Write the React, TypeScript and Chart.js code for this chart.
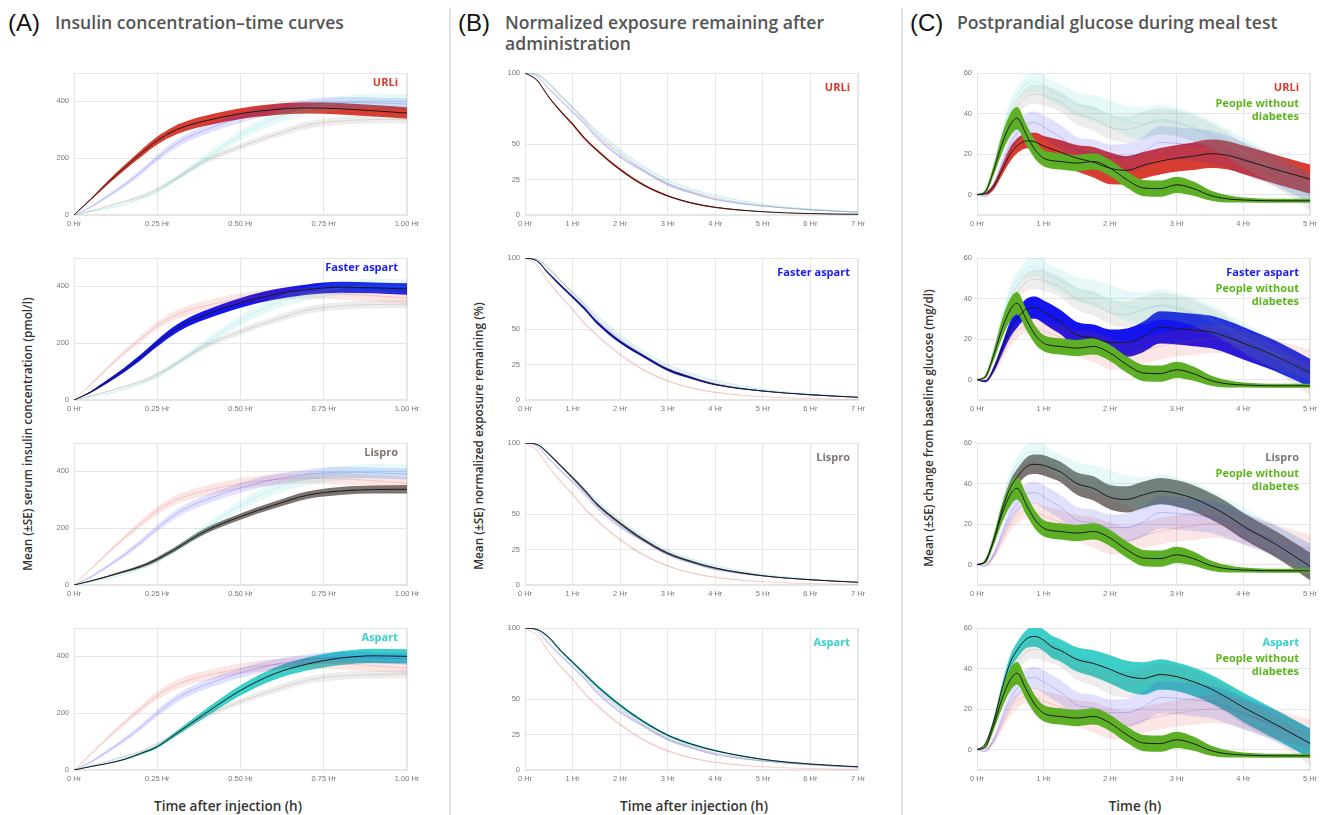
import React, { useEffect, useRef } from "react";
import { Chart, registerables } from "chart.js";

Chart.register(...registerables);

// ---------------- (A) Insulin concentration (pmol/l) ----------------
const insulinHours = [0, 0.05, 0.1, 0.15, 0.2, 0.25, 0.3, 0.35, 0.4, 0.5, 0.6, 0.7, 0.8, 0.9, 1.0];
const insulinURLi = [0, 55, 112, 165, 215, 262, 296, 318, 333, 357, 371, 377, 374, 367, 359];
const insulinURLiSE = [0, 3, 6, 9, 12, 14, 16, 17, 18, 19, 20, 20, 20, 20, 20];
const insulinFaster = [0, 28, 65, 105, 150, 200, 245, 278, 302, 342, 371, 389, 397, 395, 391];
const insulinFasterSE = [0, 3, 6, 8, 10, 12, 14, 15, 16, 17, 18, 18, 19, 19, 20];
const insulinLispro = [0, 14, 30, 47, 65, 91, 123, 160, 193, 241, 281, 316, 331, 336, 337];
const insulinLisproSE = [0, 2, 3, 4, 5, 7, 8, 9, 10, 11, 12, 13, 14, 14, 15];
const insulinAspart = [0, 12, 23, 37, 58, 82, 122, 163, 204, 280, 338, 373, 394, 402, 400];
const insulinAspartSE = [0, 1, 2, 3, 4, 5, 8, 11, 14, 18, 21, 23, 24, 25, 25];
const insulinXTicks = [0, 0.25, 0.5, 0.75, 1];
const insulinXLabels = ["0 Hr", "0.25 Hr", "0.50 Hr", "0.75 Hr", "1.00 Hr"];
const insulinYTicks = [0, 200, 400];

// ---------------- (B) Normalized exposure remaining (%) ----------------
const exposureHours = [0, 0.25, 0.5, 0.75, 1, 1.25, 1.5, 2, 2.5, 3, 3.5, 4, 5, 6, 7];
const exposureURLi = [100, 95, 83, 73, 64, 54, 46, 32, 21, 13.5, 8.5, 5.4, 2.3, 1, 0.5];
const exposureURLiSE = [0, 0.3, 0.6, 0.8, 0.9, 0.9, 0.9, 0.9, 0.8, 0.6, 0.5, 0.4, 0.2, 0.1, 0.1];
const exposureFaster = [100, 98, 89, 80.7, 72.6, 64.4, 55, 41, 30.7, 21.4, 15.6, 10.9, 6.3, 3.7, 1.9];
const exposureFasterSE = [0, 0.3, 0.7, 0.9, 1, 1.1, 1.1, 1.1, 1, 0.9, 0.8, 0.6, 0.4, 0.3, 0.2];
const exposureLispro = [100, 99, 92.3, 84, 75.5, 66.7, 57.3, 43.4, 31.7, 22.4, 16.5, 11.9, 6.5, 3.7, 1.9];
const exposureLisproSE = [0, 0.3, 0.7, 0.9, 1, 1.1, 1.1, 1.1, 1, 0.9, 0.8, 0.6, 0.4, 0.3, 0.2];
const exposureAspart = [100, 99, 93.5, 84, 76, 67.8, 59.6, 45.6, 33.9, 24.5, 18.2, 13.6, 7.5, 4.2, 2.3];
const exposureAspartSE = [0, 0.3, 0.7, 0.9, 1, 1.1, 1.1, 1.1, 1, 0.9, 0.8, 0.6, 0.4, 0.3, 0.2];
const exposureXTicks = [0, 1, 2, 3, 4, 5, 6, 7];
const exposureXLabels = ["0 Hr", "1 Hr", "2 Hr", "3 Hr", "4 Hr", "5 Hr", "6 Hr", "7 Hr"];
const exposureYTicks = [0, 25, 50, 100];

// ---------------- (C) Glucose change from baseline (mg/dl) ----------------
const glucoseHours = [0, 0.125, 0.25, 0.375, 0.5, 0.6, 0.75, 0.875, 1, 1.125, 1.25, 1.5, 1.75, 2, 2.25, 2.5, 2.75, 3, 3.25, 3.5, 3.75, 4, 4.5, 5];
const glucoseURLi = [0, 0.5, 4, 12, 20, 24, 26.6, 26, 24, 22.5, 21, 18, 16, 13, 12, 14.5, 16.5, 18, 19, 20.2, 19.5, 17.2, 12.3, 7.7];
const glucoseURLiSE = [0, 0.5, 1.5, 2.5, 3.5, 3.7, 3.7, 4.5, 5, 5.5, 6, 6.5, 7.5, 7.8, 7, 6.5, 6.5, 6.5, 6.8, 7, 7, 7, 7.2, 7.2];
const glucoseFaster = [0, -0.8, 5, 15, 25, 30, 35, 35.5, 33.4, 31, 28.5, 22, 20.7, 18.3, 18.3, 21.2, 25.8, 25.3, 24.5, 23.6, 21.2, 18, 11.4, 3.3];
const glucoseFasterSE = [0, 0.5, 1.5, 2.5, 4, 4.5, 5, 5.5, 5.7, 6, 6, 6.5, 6.5, 6.5, 7, 7.5, 8, 8, 8, 8, 8, 8, 7.5, 7];
const glucoseLispro = [0, 2, 12, 27, 38, 43, 48.5, 49.5, 49, 47.5, 45.8, 40, 37.6, 33.2, 32.2, 34.5, 36.3, 35.1, 32.7, 29, 24.5, 19, 9.8, -0.8];
const glucoseLisproSE = [0, 0.5, 1.5, 2.5, 3.5, 4, 4.5, 4.8, 5, 5, 5, 5.5, 6, 6, 6.5, 6.5, 6.5, 6.5, 6.5, 6.5, 6.5, 6.5, 6.5, 6.8];
const glucoseAspart = [0, 3, 14, 30, 43, 49, 54.8, 55.8, 54, 50.7, 49, 44.5, 42.5, 39.6, 36.3, 35.1, 37.1, 36, 33.5, 30.2, 25.8, 20.9, 12.2, 3.1];
const glucoseAspartSE = [0, 0.5, 1.5, 2.5, 3.5, 4, 4.5, 5, 5.3, 5.5, 5.5, 6, 6.5, 7, 7.5, 8, 7.5, 7, 7, 7, 7, 7.2, 7.3, 7.4];
const glucoseNoDiabetes = [0, 1.5, 12, 25, 34.5, 37.7, 29, 22, 18, 16.8, 16.4, 15.6, 16.4, 13.1, 7.4, 3.3, 3, 4.9, 3, -0.3, -2, -2.6, -3, -3];
const glucoseNoDiabetesSE = [0, 0.8, 2.5, 4.5, 5.5, 5.5, 5, 4.5, 4, 4, 4, 4, 4, 4, 4, 4, 4, 4, 3.5, 2.5, 1.8, 1.2, 1, 1];
const glucoseXTicks = [0, 1, 2, 3, 4, 5];
const glucoseXLabels = ["0 Hr", "1 Hr", "2 Hr", "3 Hr", "4 Hr", "5 Hr"];
const glucoseYTicks = [0, 20, 40, 60];

// ---------------- series meta ----------------
const seriesNames = ["URLi", "Faster aspart", "Lispro", "Aspart"];
const bandColors = ["#d83d31", "#1414ee", "#7c7470", "#3ccfca"];
const labelColors = ["#e3352b", "#1a1aff", "#7f7671", "#33d3cd"];
const noDiabetesLines = ["People without", "diabetes"];
const greenBand = "#5daf25";
const greenLabel = "#5db41f";

const GRID = "#e6e6e6";
const TICK = "#777777";
const PLOT_W = 333;
const PLOT_H = 142;
const ROW_TOPS = [73, 258, 443, 628];
const GL = 50, GR = 30, GT = 10, GB = 20;

type Spec = {
  xs: number[];
  means: number[][];
  ses: number[][];
  green?: [number[], number[]];
  xMax: number;
  xTicks: number[];
  xLabels: string[];
  yMin: number;
  yMax: number;
  yTicks: number[];
};

const specA: Spec = {
  xs: insulinHours,
  means: [insulinURLi, insulinFaster, insulinLispro, insulinAspart],
  ses: [insulinURLiSE, insulinFasterSE, insulinLisproSE, insulinAspartSE],
  xMax: 1, xTicks: insulinXTicks, xLabels: insulinXLabels,
  yMin: 0, yMax: 500, yTicks: insulinYTicks,
};
const specB: Spec = {
  xs: exposureHours,
  means: [exposureURLi, exposureFaster, exposureLispro, exposureAspart],
  ses: [exposureURLiSE, exposureFasterSE, exposureLisproSE, exposureAspartSE],
  xMax: 7, xTicks: exposureXTicks, xLabels: exposureXLabels,
  yMin: 0, yMax: 100, yTicks: exposureYTicks,
};
const specC: Spec = {
  xs: glucoseHours,
  means: [glucoseURLi, glucoseFaster, glucoseLispro, glucoseAspart],
  ses: [glucoseURLiSE, glucoseFasterSE, glucoseLisproSE, glucoseAspartSE],
  green: [glucoseNoDiabetes, glucoseNoDiabetesSE],
  xMax: 5, xTicks: glucoseXTicks, xLabels: glucoseXLabels,
  yMin: -10, yMax: 60, yTicks: glucoseYTicks,
};

function rgba(hex: string, a: number) {
  const n = parseInt(hex.slice(1), 16);
  return `rgba(${(n >> 16) & 255},${(n >> 8) & 255},${n & 255},${a})`;
}

const framePlugin = {
  id: "frame",
  beforeDatasetsDraw(chart: any) {
    const { ctx, chartArea: a } = chart;
    ctx.save();
    ctx.strokeStyle = GRID;
    ctx.lineWidth = 1;
    ctx.strokeRect(Math.round(a.left) + 0.5, Math.round(a.top) + 0.5, Math.round(a.width) - 1, Math.round(a.height) - 1);
    ctx.restore();
  },
};

function ChartPanel({ spec, hi, left, top }: { spec: Spec; hi: number; left: number; top: number }) {
  const ref = useRef<HTMLCanvasElement | null>(null);
  const W = PLOT_W + GL + GR;
  const H = PLOT_H + GT + GB;
  useEffect(() => {
    const canvas = ref.current;
    if (!canvas) return;
    const datasets: any[] = [];
    const common = { pointRadius: 0, pointHoverRadius: 0, cubicInterpolationMode: "monotone" };
    const push = (d: any) => {
      // later datasets are drawn on top
      datasets.push({ ...common, ...d, order: -datasets.length });
    };
    const band = (mean: number[], se: number[], color: string) => {
      push({
        data: spec.xs.map((x, i) => ({ x, y: mean[i] - se[i] })),
        borderWidth: 0, borderColor: "rgba(0,0,0,0)", fill: false,
      });
      push({
        data: spec.xs.map((x, i) => ({ x, y: mean[i] + se[i] })),
        borderWidth: 0, borderColor: "rgba(0,0,0,0)", fill: "-1",
        backgroundColor: color,
      });
    };
    const line = (mean: number[], color: string) => {
      push({
        data: spec.xs.map((x, i) => ({ x, y: mean[i] })),
        borderWidth: 1, borderColor: color, fill: false,
      });
    };
    // highlighted band first, faint comparators over it, then the reference group and mean lines
    band(spec.means[hi], spec.ses[hi], bandColors[hi]);
    spec.means.forEach((m, i) => {
      if (i === hi) return;
      band(m, spec.ses[i], rgba(bandColors[i], 0.13));
      line(m, rgba(bandColors[i], 0.2));
    });
    if (spec.green) band(spec.green[0], spec.green[1], greenBand);
    line(spec.means[hi], "#1a1a1a");
    if (spec.green) line(spec.green[0], "#1a1a1a");

    const tickFont = { family: "'Liberation Sans', Arial, sans-serif", size: 7.5 };
    const chart = new Chart(canvas, {
      type: "line",
      data: { datasets },
      options: {
        animation: false,
        responsive: false,
        maintainAspectRatio: false,
        events: [],
        layout: { padding: { left: 0, right: GR, top: GT, bottom: 0 } },
        plugins: { legend: { display: false }, tooltip: { enabled: false } },
        scales: {
          x: {
            type: "linear",
            min: 0,
            max: spec.xMax,
            afterBuildTicks: (a: any) => { a.ticks = spec.xTicks.map((v) => ({ value: v })); },
            afterFit: (a: any) => { a.height = GB; },
            grid: { color: GRID, drawTicks: false },
            border: { color: GRID },
            ticks: {
              padding: 4, color: TICK, font: tickFont, maxRotation: 0, autoSkip: false,
              callback: (_v: any, i: number) => spec.xLabels[i],
            },
          },
          y: {
            type: "linear",
            min: spec.yMin,
            max: spec.yMax,
            afterBuildTicks: (a: any) => { a.ticks = spec.yTicks.map((v) => ({ value: v })); },
            afterFit: (a: any) => { a.width = GL; },
            grid: { color: GRID, drawTicks: false },
            border: { color: GRID },
            ticks: {
              padding: 5, color: TICK, font: tickFont,
              callback: (_v: any, i: number) => String(spec.yTicks[i]),
            },
          },
        },
      } as any,
      plugins: [framePlugin],
    });
    return () => chart.destroy();
  }, [spec, hi]);
  return (
    <canvas
      ref={ref}
      width={W}
      height={H}
      style={{ position: "absolute", left: left - GL, top: top - GT, width: W, height: H }}
    />
  );
}

const labelFont: React.CSSProperties = {
  fontFamily: "'Open Sans', sans-serif",
  fontWeight: 700,
  fontSize: 11,
  lineHeight: "13px",
  whiteSpace: "nowrap",
  position: "absolute",
  textAlign: "right",
  width: 200,
};

function Column({ spec, left, kind }: { spec: Spec; left: number; kind: "A" | "B" | "C" }) {
  return (
    <>
      {ROW_TOPS.map((top, r) => {
        const right = left + PLOT_W;
        return (
          <React.Fragment key={r}>
            <ChartPanel spec={spec} hi={r} left={left} top={top} />
            {kind === "A" && (
              <div style={{ ...labelFont, left: right - 9 - 200, top: top + 2, color: labelColors[r] }}>{seriesNames[r]}</div>
            )}
            {kind === "B" && (
              <div style={{ ...labelFont, left: right - 8 - 200, top: top + 7, color: labelColors[r] }}>{seriesNames[r]}</div>
            )}
            {kind === "C" && (
              <>
                <div style={{ ...labelFont, left: right - 11 - 200, top: top + 7, color: labelColors[r] }}>{seriesNames[r]}</div>
                <div style={{ ...labelFont, left: right - 11 - 200, top: top + 23, color: greenLabel }}>
                  {noDiabetesLines[0]}
                  <br />
                  {noDiabetesLines[1]}
                </div>
              </>
            )}
          </React.Fragment>
        );
      })}
    </>
  );
}

const letterStyle: React.CSSProperties = {
  position: "absolute",
  fontFamily: "'Liberation Sans', Arial, sans-serif",
  fontSize: 24,
  lineHeight: "24px",
  color: "#111",
  top: 11,
};
const titleStyle: React.CSSProperties = {
  position: "absolute",
  fontFamily: "'Open Sans', sans-serif",
  fontWeight: 600,
  fontSize: 17.6,
  lineHeight: "21px",
  color: "#555",
  top: 12,
  whiteSpace: "nowrap",
};
const axisTitle: React.CSSProperties = {
  position: "absolute",
  fontFamily: "'Open Sans', sans-serif",
  fontWeight: 600,
  fontSize: 13.5,
  color: "#333",
  whiteSpace: "nowrap",
  transform: "translate(-50%, -50%)",
};
const yTitle: React.CSSProperties = {
  ...axisTitle,
  fontSize: 11.8,
  transform: "translate(-50%, -50%) rotate(-90deg)",
};

export default function App() {
  return (
    <div style={{ position: "absolute", left: 0, top: 0, width: 1329, height: 815, background: "#fff", overflow: "hidden" }}>
      <div style={{ position: "absolute", left: 449, top: 8, width: 2, height: 807, background: "#e4e4e4" }} />
      <div style={{ position: "absolute", left: 901, top: 8, width: 2, height: 807, background: "#e4e4e4" }} />

      <div style={{ ...letterStyle, left: 8 }}>(A)</div>
      <div style={{ ...titleStyle, left: 55 }}>Insulin concentration–time curves</div>
      <div style={{ ...letterStyle, left: 458 }}>(B)</div>
      <div style={{ ...titleStyle, left: 505 }}>
        Normalized exposure remaining after
        <br />
        administration
      </div>
      <div style={{ ...letterStyle, left: 910 }}>(C)</div>
      <div style={{ ...titleStyle, left: 957 }}>Postprandial glucose during meal test</div>

      <div style={{ ...yTitle, left: 27, top: 434 }}>Mean (±SE) serum insulin concentration (pmol/l)</div>
      <div style={{ ...yTitle, left: 478, top: 436 }}>Mean (±SE) normalized exposure remaining (%)</div>
      <div style={{ ...yTitle, left: 928, top: 428 }}>Mean (±SE) change from baseline glucose (mg/dl)</div>

      <div style={{ ...axisTitle, left: 228, top: 806 }}>Time after injection (h)</div>
      <div style={{ ...axisTitle, left: 694, top: 806 }}>Time after injection (h)</div>
      <div style={{ ...axisTitle, left: 1135, top: 806 }}>Time (h)</div>

      <Column spec={specA} left={74} kind="A" />
      <Column spec={specB} left={525} kind="B" />
      <Column spec={specC} left={977} kind="C" />
    </div>
  );
}
